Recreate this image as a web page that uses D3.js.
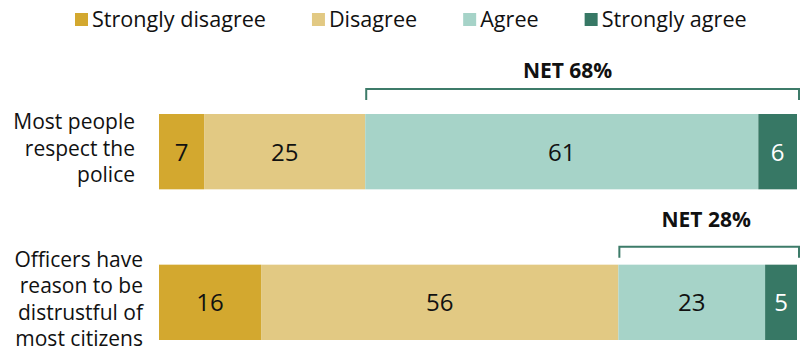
<!DOCTYPE html>
<html>
<head>
<meta charset="utf-8">
<script src="https://cdn.jsdelivr.net/npm/d3@7"></script>
<style>
  html, body { margin: 0; padding: 0; background: #fff; }
  svg { display: block; font-family: "Open Sans", "Liberation Sans", Arial, sans-serif; }
</style>
</head>
<body>
<svg id="chart" width="800" height="351"></svg>
<script>
// Survey statements (one line per array entry)
const statements = [
  ["Most people", "respect the", "police"],
  ["Officers have", "reason to be", "distrustful of", "most citizens"]
];
const responses = ["Strongly disagree", "Disagree", "Agree", "Strongly agree"];

// Percent of officers giving each response, in the order of `responses`
const mostPeopleRespect = [7, 25, 61, 6];
const officersDistrustful = [16, 56, 23, 5];
const netAgree = [68, 28];

const rows = [mostPeopleRespect, officersDistrustful];

const colors = ["#d3a82f", "#e2c983", "#a6d3c8", "#377865"];
const labelColors = ["#111", "#111", "#111", "#fff"];
const bracketColor = "#3d7b69";

const svg = d3.select("#chart");

// Layout
const barLeft = 159, barRight = 797;
const y = d3.scaleBand()
  .domain(d3.range(rows.length))
  .range([114, 340])
  .paddingInner(0.5)
  .paddingOuter(0);

const labelRight = [135, 143];
const lineHeight = 26.4;
const bracketGap = [25, 18];   // distance of bracket line above bar top
const netGap = [36, 38];       // distance of NET label baseline above bar top

// Legend
const legend = svg.append("g").attr("class", "legend");
let lx = 75;
responses.forEach((r, i) => {
  const g = legend.append("g").attr("transform", `translate(${lx},0)`);
  g.append("rect").attr("x", 0).attr("y", 13).attr("width", 13).attr("height", 13)
    .attr("fill", colors[i]);
  const t = g.append("text").attr("x", 17).attr("y", 27)
    .attr("font-size", 21.6).attr("fill", "#111").text(r);
  lx += 17 + t.node().getComputedTextLength() + 46;
});

rows.forEach((vals, ri) => {
  const total = d3.sum(vals);
  const x = d3.scaleLinear().domain([0, total]).range([barLeft, barRight]);
  const starts = d3.cumsum([0, ...vals]);
  const top = y(ri), bh = y.bandwidth(), cy = top + bh / 2;

  const g = svg.append("g").attr("class", "row");

  // Stacked segments
  g.selectAll("rect.seg").data(vals).join("rect")
    .attr("class", "seg")
    .attr("x", (d, i) => x(starts[i]))
    .attr("y", top)
    .attr("width", (d, i) => x(starts[i] + d) - x(starts[i]))
    .attr("height", bh)
    .attr("fill", (d, i) => colors[i]);

  // Segment value labels
  g.selectAll("text.val").data(vals).join("text")
    .attr("class", "val")
    .attr("x", (d, i) => (x(starts[i]) + x(starts[i] + d)) / 2)
    .attr("y", cy + 9)
    .attr("text-anchor", "middle")
    .attr("font-size", 24)
    .attr("fill", (d, i) => labelColors[i])
    .text(d => d);

  // Statement label, right aligned, vertically centred on the bar
  const lines = statements[ri];
  const firstBase = cy - (lines.length - 1) / 2 * lineHeight + 4;
  g.append("text")
    .attr("text-anchor", "end")
    .attr("font-size", 21)
    .attr("fill", "#111")
    .selectAll("tspan").data(lines).join("tspan")
    .attr("x", labelRight[ri])
    .attr("y", (d, i) => firstBase + i * lineHeight)
    .text(d => d);

  // NET bracket over the two agree segments
  const bx0 = x(starts[2]) + 1, bx1 = barRight + 2;
  const by = top - bracketGap[ri];
  g.append("path")
    .attr("d", `M${bx0},${by + 11}V${by}H${bx1}V${by + 11}`)
    .attr("fill", "none")
    .attr("stroke", bracketColor)
    .attr("stroke-width", 2);
  g.append("text")
    .attr("x", (bx0 + bx1) / 2 - (ri === 0 ? 15 : 3))
    .attr("y", top - netGap[ri])
    .attr("text-anchor", "middle")
    .attr("font-size", 21)
    .attr("font-weight", "bold")
    .attr("fill", "#111")
    .text(`NET ${netAgree[ri]}%`);
});
</script>
</body>
</html>
